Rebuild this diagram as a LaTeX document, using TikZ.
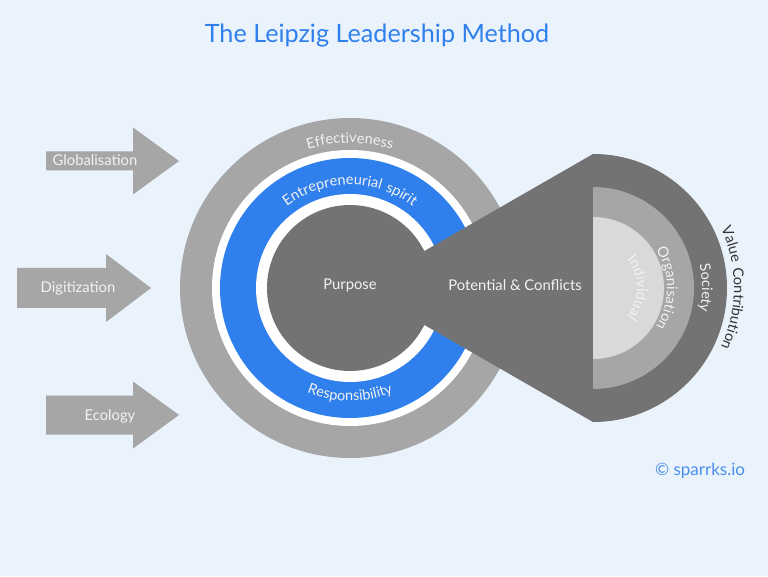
\documentclass[tikz,border=0pt]{standalone}
\usepackage{fontspec}
\setmainfont{Lato}
\newfontfamily\spacedlato[LetterSpace=9]{Lato}
\usetikzlibrary{decorations.text}

\definecolor{bgblue}{HTML}{EAF2FC}
\definecolor{titleblue}{HTML}{2F80ED}
\definecolor{markblue}{HTML}{4A8FEC}
\definecolor{ringblue}{HTML}{2F80ED}
\definecolor{ringgray}{HTML}{A6A6A6}
\definecolor{coregray}{HTML}{737373}
\definecolor{palegray}{HTML}{D9D9D9}
\definecolor{softwhite}{HTML}{F2F2F2}
\definecolor{darktext}{HTML}{333333}

\newcommand*{\ringfont}{\spacedlato\fontsize{14.5}{16}\selectfont}

\tikzset{
  txt/.style     = {anchor=base, inner sep=0pt, text=softwhite, font=\fontsize{14.8}{17}\selectfont},
  headline/.style= {anchor=base, inner sep=0pt, text=titleblue, font=\fontsize{25.2}{29}\selectfont},
  brand/.style   = {anchor=base, inner sep=0pt, text=markblue, font=\fontsize{17}{20}\selectfont},
  onarc/.style   = {decorate, decoration={text along path, text align=center, text={#1}}},
}

\begin{document}
\begin{tikzpicture}[x=1pt,y=1pt]

  % Background
  \fill[bgblue] (0,0) rectangle (768,576);
  \useasboundingbox (0,0) rectangle (768,576);

  % Influences
  \fill[ringgray] (46,405.5) -- (133,405.5) -- (133,381.5) -- (179,415) -- (133,448.5) -- (133,424.5) -- (46,424.5) -- cycle;
  \fill[ringgray] (17,268)   -- (106,268)   -- (106,254)   -- (151,288) -- (106,322)   -- (106,308)   -- (17,308)     -- cycle;
  \fill[ringgray] (46,141.5) -- (133,141.5) -- (133,127.5) -- (179,161) -- (133,194.5) -- (133,180.5) -- (46,180.5) -- cycle;

  % Rings
  \fill[ringgray]  (350,288) circle (170);
  \fill[white]     (350,288) circle (138);
  \fill[ringblue]  (350,288) circle (130);
  \fill[white]     (350,288) circle (94);
  \fill[coregray]  (350,288) circle (83);

  % Cone and value fan
  \fill[coregray] (360,288) -- (593,422) -- (593,154) -- cycle;
  \fill[coregray] (593,422) arc[start angle=90, end angle=-90, radius=134] -- cycle;
  \fill[ringgray] (593,389) arc[start angle=90, end angle=-90, radius=101] -- cycle;
  \fill[palegray] (593,359) arc[start angle=90, end angle=-90, radius=71]  -- cycle;

  % Define nodes
  \node[headline]          (title)     at (377,533) {The Leipzig Leadership Method};
  \node[txt]               (glob)      at (95,410)  {Globalisation};
  \node[txt]               (digit)     at (78,283)  {Digitization};
  \node[txt]               (eco)       at (110,156) {Ecology};
  \node[txt]               (purpose)   at (350,286) {Purpose};
  \node[txt]               (potential) at (515,285) {Potential \& Conflicts};
  \node[brand]             (mark)      at (700,101) {© sparrks.io};

  % Texts on the rings
  \path[onarc={|\ringfont\color{softwhite}|Effectiveness}]
    ([shift={(350,288)}]140:145) arc[start angle=140, end angle=40, radius=145];
  \path[onarc={|\ringfont\color{softwhite}|Entrepreneurial spirit}]
    ([shift={(350,288)}]155:103) arc[start angle=155, end angle=25, radius=103];
  \path[onarc={|\ringfont\color{softwhite}|Responsibility}]
    ([shift={(350,288)}]215:113) arc[start angle=215, end angle=325, radius=113];
  \path[onarc={|\ringfont\color{softwhite}|Society}]
    ([shift={(593,288)}]40:109) arc[start angle=40, end angle=-40, radius=109];
  \path[onarc={|\ringfont\color{softwhite}|Organisation}]
    ([shift={(593,288)}]60:74) arc[start angle=60, end angle=-60, radius=74];
  \path[onarc={|\ringfont\color{softwhite}|Individual}]
    ([shift={(593,288)}]80:44) arc[start angle=80, end angle=-80, radius=44];
  \path[onarc={|\ringfont\color{darktext}|Value Contribution}]
    ([shift={(593,288)}]55:141) arc[start angle=55, end angle=-55, radius=141];

\end{tikzpicture}
\end{document}
